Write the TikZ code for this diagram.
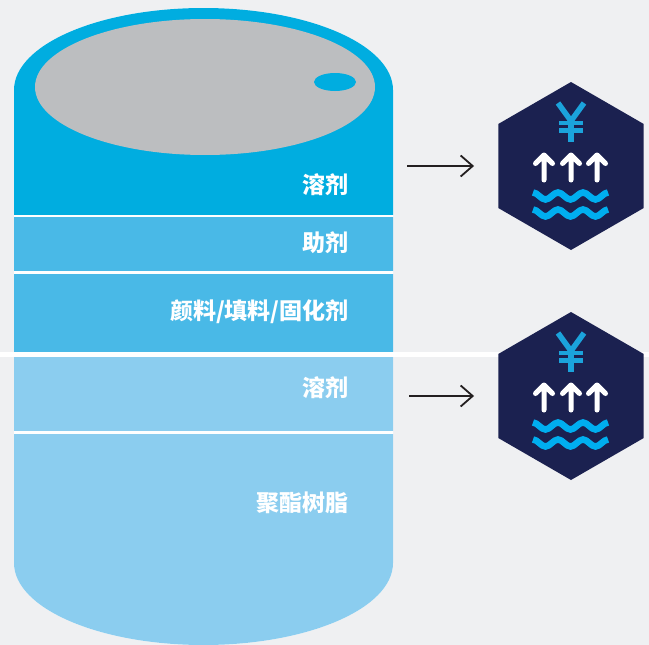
\documentclass[tikz,border=0pt]{standalone}
\usepackage{fontspec}
\newfontfamily\cjk{Noto Sans CJK SC}
\usetikzlibrary{shapes.geometric,arrows.meta}

\definecolor{bgcol}{HTML}{EFF0F2}
\definecolor{solventtop}{HTML}{00ADE0}
\definecolor{midband}{HTML}{49B9E7}
\definecolor{lowband}{HTML}{8BCDEF}
\definecolor{lidgray}{HTML}{BCBEC0}
\definecolor{navy}{HTML}{1B2150}
\definecolor{yencol}{HTML}{1BA3DC}
\definecolor{wavecol}{HTML}{00AEEF}
\definecolor{arrowcol}{HTML}{231F20}

\tikzset{
  layertext/.style={anchor=east, text=white, inner sep=0pt, font=\cjk\bfseries\fontsize{23}{27}\selectfont},
  hexbadge/.style={regular polygon, regular polygon sides=6, shape border rotate=30,
    minimum size=168pt, inner sep=0pt, fill=navy},
  flow/.style={draw=arrowcol, line width=1.8pt, -{Straight Barb[length=12pt,width=21pt]}, shorten >=24pt},
  wave/.style={wavecol, line width=6.5pt},
  cost/.pic={
    % yen sign
    \draw[yencol, line width=5.5pt, line join=miter] (-13,-63) -- (0,-45) -- (13,-63);
    \draw[yencol, line width=5.5pt] (0,-45) -- (0,-24);
    \draw[yencol, line width=4.5pt] (-12,-43) -- (12,-43) (-12,-35.5) -- (12,-35.5);
    % rising arrows
    \draw[white, line width=5pt, line cap=round, line join=round]
      (-27,14) -- (-27,-9) (-35.5,-2.5) -- (-27,-11) -- (-18.5,-2.5)
      (0,14) -- (0,-9) (-8.5,-2.5) -- (0,-11) -- (8.5,-2.5)
      (26,14) -- (26,-9) (17.5,-2.5) -- (26,-11) -- (34.5,-2.5);
    % water waves
    \draw[wave] (-38,26.5) cos (-31.75,30) sin (-25.5,33.5) cos (-19.25,30) sin (-13,26.5)
      cos (-6.75,30) sin (-0.5,33.5) cos (5.75,30) sin (12,26.5)
      cos (18.25,30) sin (24.5,33.5) cos (30.75,30) sin (37,26.5);
    \draw[wave] (-38,43.5) cos (-31.75,47) sin (-25.5,50.5) cos (-19.25,47) sin (-13,43.5)
      cos (-6.75,47) sin (-0.5,50.5) cos (5.75,47) sin (12,43.5)
      cos (18.25,47) sin (24.5,50.5) cos (30.75,47) sin (37,43.5);
  }
}

\begin{document}
\begin{tikzpicture}[x=1pt, y=-1pt]
  % canvas
  \fill[bgcol] (0,0) rectangle (649,645);
  \useasboundingbox (0,0) rectangle (649,645);

  % drum body with coloured layers
  \begin{scope}
    \clip (14,90) arc[start angle=180, end angle=360, x radius=189.5, y radius=82]
      -- (393,563) arc[start angle=0, end angle=180, x radius=189.5, y radius=82] -- cycle;
    \fill[white] (0,0) rectangle (649,645);
    \fill[solventtop] (0,0) rectangle (649,215);
    \fill[midband] (0,217) rectangle (649,271);
    \fill[midband] (0,274) rectangle (649,352);
    \fill[lowband] (0,357) rectangle (649,431);
    \fill[lowband] (0,434) rectangle (649,645);
  \end{scope}

  % lid and bung
  \fill[lidgray] (205,87) ellipse[x radius=170, y radius=68];
  \fill[solventtop] (335,82) ellipse[x radius=21, y radius=9];

  % separating line across the whole width
  \fill[white] (0,352) rectangle (649,357);

  % layer labels
  \node[layertext] (solA) at (349,185) {溶剂};
  \node[layertext] (addit) at (349,243) {助剂};
  \node[layertext] (pigm) at (349,312) {颜料/填料/固化剂};
  \node[layertext] (solB) at (349,388) {溶剂};
  \node[layertext] (resin) at (349,503) {聚酯树脂};

  % cost badges
  \node[hexbadge] (hexA) at (571,166) {};
  \node[hexbadge] (hexB) at (571,396) {};
  \pic at (hexA.center) {cost};
  \pic at (hexB.center) {cost};

  % arrows from solvent layers to badges
  \coordinate (startA) at (407,166);
  \coordinate (startB) at (409,396);
  \draw[flow] (startA) -- (hexA);
  \draw[flow] (startB) -- (hexB);
\end{tikzpicture}
\end{document}
